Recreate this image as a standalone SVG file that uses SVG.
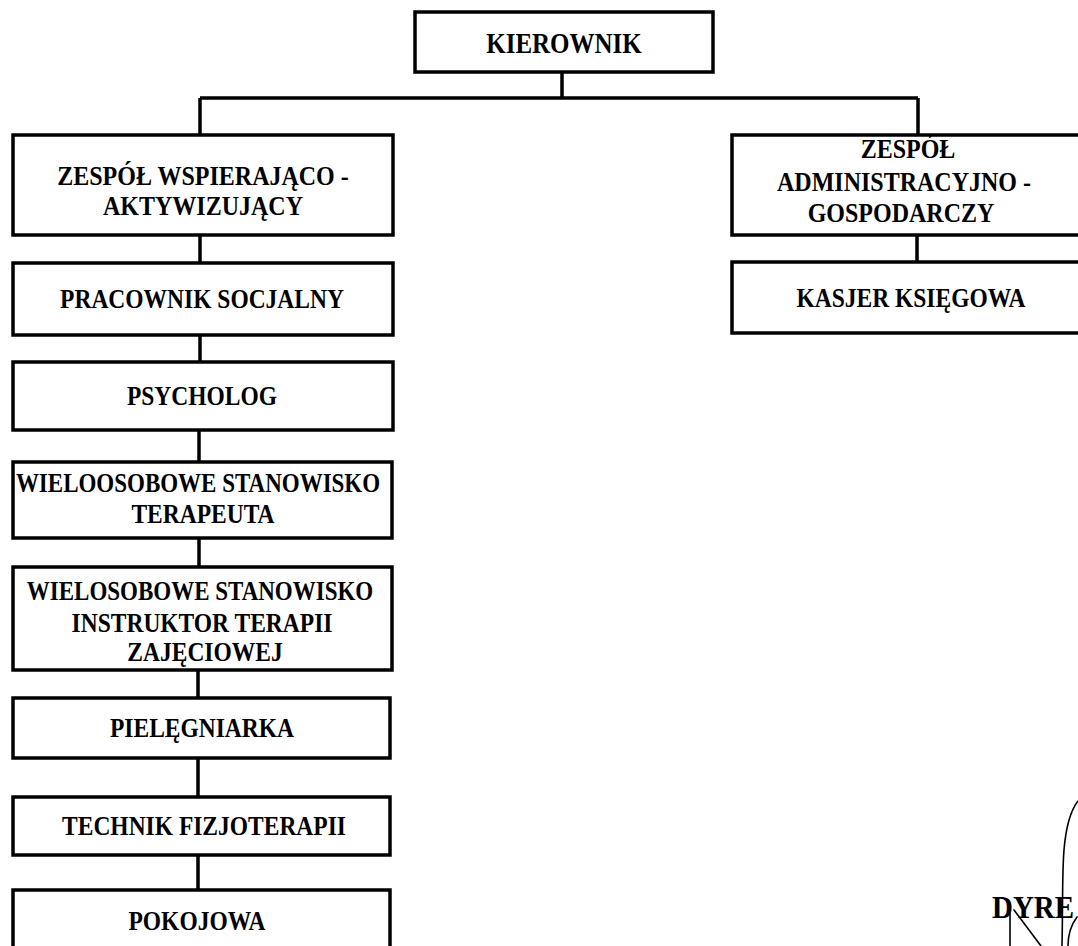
<svg xmlns="http://www.w3.org/2000/svg" width="1078" height="946" viewBox="0 0 1078 946">
<style>
.box{fill:#fff;stroke:#000;stroke-width:3.5}
.con{fill:none;stroke:#000;stroke-width:3.5}
.t{font-family:"Liberation Serif","Times New Roman",serif;font-weight:bold;font-size:23.5px;fill:#000;text-anchor:middle}
.sig{fill:none;stroke:#000;stroke-width:1.6;stroke-linecap:round}
</style>
<rect width="1078" height="946" fill="#fff"/>
<g id="connectors">
<path class="con" d="M562 72V98M200 98H918M200 98V135M918 98V135"/>
<path class="con" d="M917 235V262"/>
<path class="con" d="M200 235V263M200 335V362M199 430V462M199 538V567M198 670V698M198 758V797M198 855V890"/>
</g>
<g id="kierownik">
<rect class="box" x="415" y="12" width="298" height="60"/>
<text class="t" transform="translate(564,53) scale(1,1.18)" style="font-size:25px">KIEROWNIK</text>
</g>
<g id="zespol-wa">
<rect class="box" x="13" y="135" width="380" height="100"/>
<text class="t" transform="translate(203,185) scale(1,1.1)" style="font-size:24px">ZESPÓŁ WSPIERAJĄCO -</text>
<text class="t" transform="translate(203,215) scale(1,1.1)" style="font-size:24px">AKTYWIZUJĄCY</text>
</g>
<g id="zespol-ag">
<rect class="box" x="732" y="135" width="360" height="100"/>
<text class="t" transform="translate(908,158) scale(1,1.15)" style="font-size:24px">ZESPÓŁ</text>
<text class="t" transform="translate(904,191) scale(1,1.15)" style="font-size:24px">ADMINISTRACYJNO -</text>
<text class="t" transform="translate(901,222) scale(1,1.15)" style="font-size:24px">GOSPODARCZY</text>
</g>
<g id="kasjer">
<rect class="box" x="732" y="262" width="360" height="71"/>
<text class="t" transform="translate(911,307) scale(1,1.17)">KASJER KSIĘGOWA</text>
</g>
<g id="pracownik">
<rect class="box" x="13" y="263" width="380" height="72"/>
<text class="t" transform="translate(202,308) scale(1,1.17)">PRACOWNIK SOCJALNY</text>
</g>
<g id="psycholog">
<rect class="box" x="13" y="362" width="380" height="68"/>
<text class="t" transform="translate(202,405) scale(1,1.17)">PSYCHOLOG</text>
</g>
<g id="terapeuta">
<rect class="box" x="13" y="462" width="379" height="76"/>
<text class="t" transform="translate(198,492) scale(1,1.17)" style="font-size:23px">WIELOOSOBOWE STANOWISKO</text>
<text class="t" transform="translate(203,523) scale(1,1.17)">TERAPEUTA</text>
</g>
<g id="instruktor">
<rect class="box" x="13" y="567" width="379" height="103"/>
<text class="t" transform="translate(200,600) scale(1,1.17)" style="font-size:23px">WIELOSOBOWE STANOWISKO</text>
<text class="t" transform="translate(202,632) scale(1,1.17)">INSTRUKTOR TERAPII</text>
<text class="t" transform="translate(205,661) scale(1,1.17)">ZAJĘCIOWEJ</text>
</g>
<g id="pielegniarka">
<rect class="box" x="13" y="698" width="377" height="60"/>
<text class="t" transform="translate(202,737) scale(1,1.17)">PIELĘGNIARKA</text>
</g>
<g id="technik">
<rect class="box" x="13" y="797" width="377" height="58"/>
<text class="t" transform="translate(204,835) scale(1,1.17)">TECHNIK FIZJOTERAPII</text>
</g>
<g id="pokojowa">
<rect class="box" x="13" y="890" width="377" height="60"/>
<text class="t" transform="translate(197,930) scale(1,1.17)">POKOJOWA</text>
</g>
<g id="signature">
<text class="t" transform="translate(992,918) scale(1,1.1)" style="font-size:29px;text-anchor:start">DYRE</text>
<path class="sig" d="M1078 801C1071 810 1066 826 1064 850C1062 875 1063 900 1062 946"/>
<path class="sig" d="M1010 912V946M1014 910L1041 946M1077 917C1071 925 1068 935 1068 946"/>
</g>
</svg>
